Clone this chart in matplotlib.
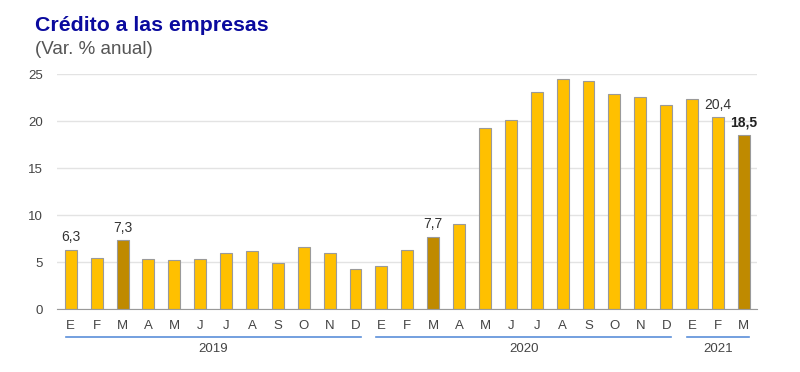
import matplotlib.pyplot as plt
import matplotlib.transforms as mtransforms

months = ['E', 'F', 'M', 'A', 'M', 'J', 'J', 'A', 'S', 'O', 'N', 'D',
          'E', 'F', 'M', 'A', 'M', 'J', 'J', 'A', 'S', 'O', 'N', 'D',
          'E', 'F', 'M']
values = [6.3, 5.4, 7.3, 5.3, 5.2, 5.3, 6.0, 6.2, 4.9, 6.6, 6.0, 4.3,
          4.6, 6.3, 7.7, 9.0, 19.3, 20.1, 23.1, 24.5, 24.3, 22.9, 22.6, 21.7,
          22.3, 20.4, 18.5]
highlight = [2, 14, 26]  # marzo de cada año
labels = {0: '6,3', 2: '7,3', 14: '7,7', 25: '20,4', 26: '18,5'}
years = ['2019', '2020', '2021']
year_spans = [(0, 11), (12, 23), (24, 26)]

plt.rcParams['font.family'] = ['Liberation Sans', 'DejaVu Sans']

fig = plt.figure(figsize=(8, 3.72), dpi=100)
ax = fig.add_axes([0.071, 0.169, 0.875, 0.632])

x = list(range(len(values)))
colors = ['#BF8A00' if i in highlight else '#FFC000' for i in x]
ax.bar(x, values, width=0.46, color=colors, edgecolor='#9a9a9a', linewidth=0.8, zorder=3)

for i, txt in labels.items():
    bold = (i == 26)
    ax.text(i, values[i] + 0.6, txt, ha='center', va='bottom', fontsize=10,
            color='#222222' if bold else '#333333',
            fontweight='bold' if bold else 'normal')

ax.set_ylim(0, 25)
ax.set_xlim(-0.54, 26.5)
ax.set_yticks([0, 5, 10, 15, 20, 25])
ax.set_xticks(x)
ax.set_xticklabels(months)
ax.tick_params(axis='both', length=0, labelsize=9.5, colors='#444444')
ax.tick_params(axis='x', pad=8)
ax.tick_params(axis='y', pad=10)
ax.grid(axis='y', color='#e3e3e3', linewidth=1, zorder=0)
for s in ['top', 'right', 'left']:
    ax.spines[s].set_visible(False)
ax.spines['bottom'].set_color('#999999')
ax.spines['bottom'].set_zorder(4)

trans = mtransforms.blended_transform_factory(ax.transData, ax.transAxes)
for yr, (a, b) in zip(years, year_spans):
    ax.plot([a - 0.2, b + 0.2], [-0.119, -0.119], transform=trans, color='#5b8fd9',
            linewidth=1.2, clip_on=False)
    ax.text((a + b) / 2, -0.142, yr, transform=trans, ha='center', va='top',
            fontsize=9.5, color='#444444')

fig.text(0.044, 0.932, 'Crédito a las empresas', fontsize=15.3, fontweight='bold',
         color='#0a0a9e', ha='left', va='center')
fig.text(0.044, 0.868, '(Var. % anual)', fontsize=13.5, color='#555555',
         ha='left', va='center')

fig.savefig('out.png', dpi=100)
